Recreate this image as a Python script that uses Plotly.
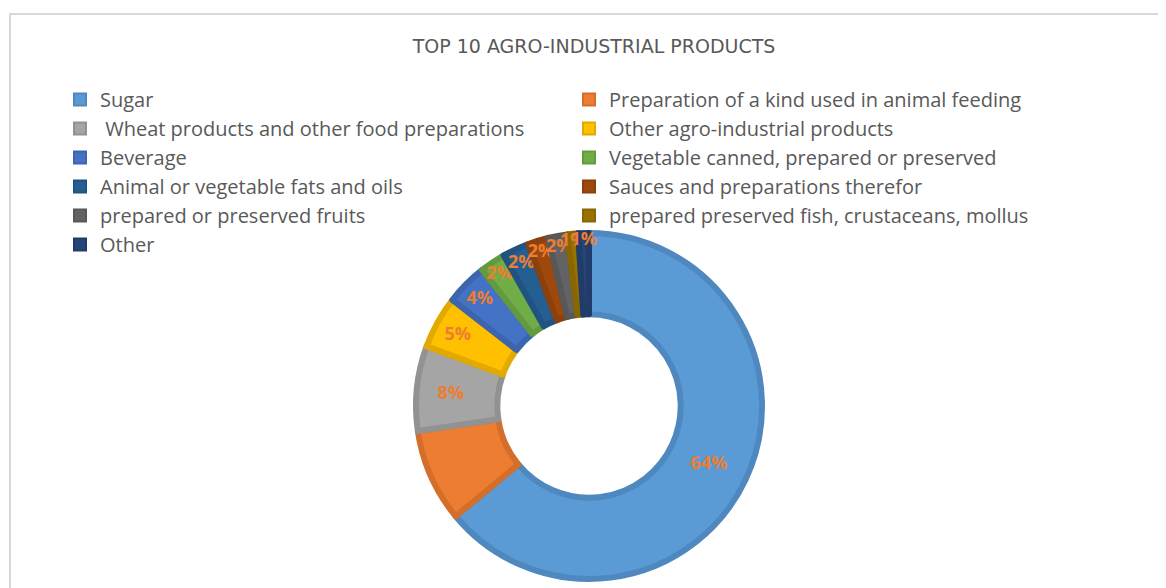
import plotly.graph_objects as go

prodotti = [
    "Sugar",
    "Preparation of a kind used in animal feeding",
    " Wheat products and other food preparations",
    "Other agro-industrial products",
    "Beverage",
    "Vegetable canned, prepared or preserved",
    "Animal or vegetable fats and oils",
    "Sauces and preparations therefor",
    "prepared or preserved fruits",
    "prepared preserved fish, crustaceans, mollus",
    "Other",
]
quote = [64.0, 8.7, 7.9, 4.9, 3.9, 2.4, 2.5, 1.9, 1.8, 1.0, 1.0]

colori = ["#5B9BD5", "#ED7D31", "#A5A5A5", "#FFC000", "#4472C4", "#70AD47",
          "#255E91", "#9E480E", "#636363", "#997300", "#264478"]
bordi = ["#4F88BE", "#D36F2B", "#929292", "#E2AA00", "#3C65AE", "#63993F",
         "#215382", "#8C400C", "#585858", "#886600", "#213C6A"]

W, H = 1166, 588
OFF = 8  # body margin of the html page shifts everything by 8px

fig = go.Figure()

fig.add_trace(
    go.Pie(
        labels=prodotti,
        values=quote,
        hole=0.53,
        sort=False,
        direction="clockwise",
        rotation=0,
        marker=dict(colors=colori, line=dict(color=bordi, width=6)),
        texttemplate="%{percent:.0%}",
        textposition="inside",
        insidetextorientation="horizontal",
        textfont=dict(family="Open Sans", size=18, color="#ED7D31", weight="bold"),
        domain=dict(x=[(416 - OFF) / W, (762 - OFF) / W],
                    y=[1 - (579 - OFF) / H, 1 - (233 - OFF) / H]),
        showlegend=True,
    ))

fig.update_layout(
    width=W,
    height=H,
    margin=dict(l=0, r=0, t=0, b=0),
    paper_bgcolor="white",
    title=dict(
        text="TOP 10 AGRO-INDUSTRIAL PRODUCTS",
        x=(594 - OFF) / W, xanchor="center",
        y=1 - 38 / H, yanchor="middle",
        font=dict(family="DejaVu Sans", size=19, color="#595959"),
    ),
    legend=dict(
        orientation="h",
        x=52 / W, xanchor="left",
        y=1 - 72 / H, yanchor="top",
        entrywidth=464,
        entrywidthmode="pixels",
        traceorder="normal",
        font=dict(family="Open Sans", size=20, color="#595959"),
        bgcolor="rgba(0,0,0,0)",
        itemsizing="constant",
        tracegroupgap=0,
    ),
    uniformtext=dict(minsize=18, mode="show"),
    shapes=[
        dict(type="rect", xref="paper", yref="paper",
             x0=(10 - OFF) / W, x1=1.05, y0=-0.05, y1=1 - (14 - OFF) / H,
             line=dict(color="#D9D9D9", width=2), fillcolor="rgba(0,0,0,0)",
             layer="below"),
    ],
)

fig.write_html("out.html")
